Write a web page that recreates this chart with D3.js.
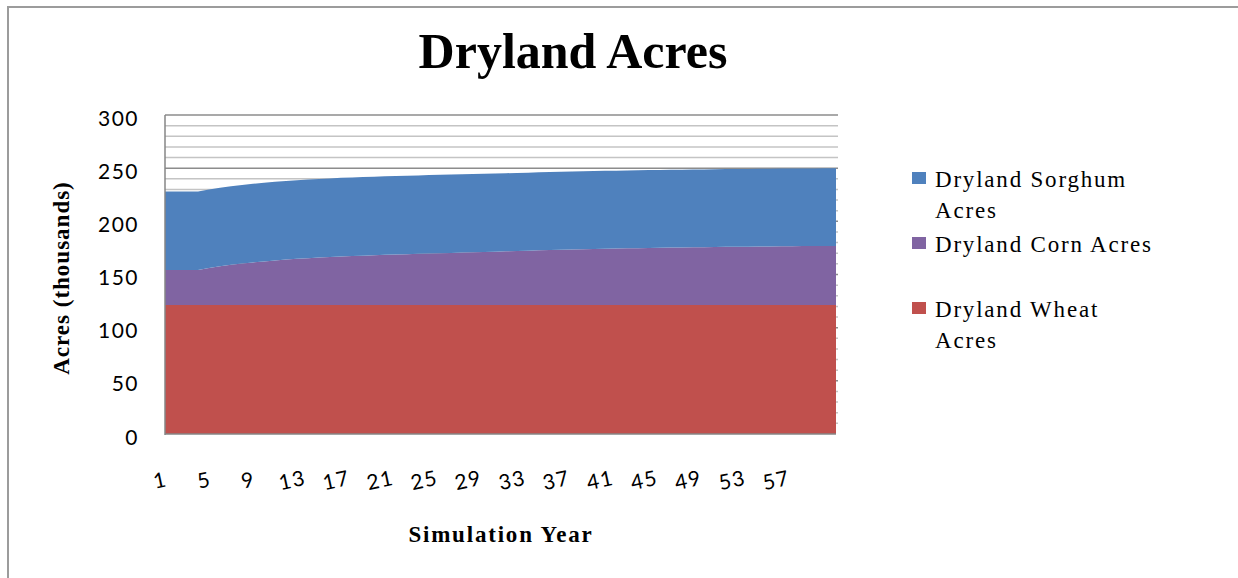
<!DOCTYPE html>
<html>
<head>
<meta charset="utf-8">
<script src="https://cdn.jsdelivr.net/npm/d3@7"></script>
<style>
    body { margin: 0; background: #fff; }
    svg { display: block; }
</style>
</head>
<body>
<div id="chart"></div>
<script>
// simulation years 1..62
let years = [1, 2, 3, 4, 5, 6, 7, 8, 9, 10, 11, 12, 13, 14, 15, 16, 17, 18, 19, 20,
    21, 22, 23, 24, 25, 26, 27, 28, 29, 30, 31, 32, 33, 34, 35, 36, 37, 38, 39, 40,
    41, 42, 43, 44, 45, 46, 47, 48, 49, 50, 51, 52, 53, 54, 55, 56, 57, 58, 59, 60, 61, 62];

// acres in thousands
let wheat = [121.3, 121.3, 121.3, 121.3, 121.3, 121.3, 121.3, 121.3, 121.3, 121.3,
    121.3, 121.3, 121.3, 121.3, 121.3, 121.3, 121.3, 121.3, 121.3, 121.3,
    121.3, 121.3, 121.3, 121.3, 121.3, 121.3, 121.3, 121.3, 121.3, 121.3,
    121.3, 121.3, 121.3, 121.3, 121.3, 121.3, 121.3, 121.3, 121.3, 121.3,
    121.3, 121.3, 121.3, 121.3, 121.3, 121.3, 121.3, 121.3, 121.3, 121.3,
    121.3, 121.3, 121.3, 121.3, 121.3, 121.3, 121.3, 121.3, 121.3, 121.3, 121.3, 121.3];
let corn = [33.0, 33.0, 33.0, 33.0,
    34.8, 36.4, 37.8, 39.0, 40.1, 41.0, 41.9, 42.7, 43.4, 44.0, 44.6, 45.1, 45.6, 46.0,
    46.4, 46.8, 47.2, 47.5, 47.8, 48.1, 48.4, 48.7, 49.0, 49.3, 49.6, 49.9, 50.2,
    50.5, 50.8, 51.1, 51.4, 51.7, 52.0, 52.2, 52.5, 52.7, 52.9, 53.1, 53.3, 53.5, 53.7,
    53.8, 54.0, 54.1, 54.3, 54.4, 54.5, 54.7, 54.8, 54.9, 55.0, 55.1, 55.2, 55.3, 55.4,
    55.4, 55.5, 55.5];
let sorghum = [73.7, 73.7, 73.7, 73.7,
    73.8, 73.8, 73.9, 73.9, 73.9, 74.0, 74.0, 74.0, 74.0, 74.0, 74.0,
    74.0, 74.0, 74.0, 73.9, 73.9, 73.9, 73.9, 73.8, 73.8, 73.8, 73.7, 73.7, 73.6, 73.6, 73.5, 73.5,
    73.5, 73.4, 73.4, 73.4, 73.4, 73.3, 73.3, 73.3, 73.3, 73.3,
    73.2, 73.2, 73.2, 73.2, 73.2, 73.2, 73.2,
    73.1, 73.1, 73.1, 73.1, 73.1, 73.1, 73.1, 73.1, 73.1, 73.1, 73.1, 73.1, 73.1, 73.1];

let xTickLabels = [1, 5, 9, 13, 17, 21, 25, 29, 33, 37, 41, 45, 49, 53, 57];
let yTickLabels = [0, 50, 100, 150, 200, 250, 300];

let width = 1238;
let height = 578;

let plot = {left: 165, right: 836, top: 115, bottom: 434};

let svg = d3.select("#chart").append("svg")
    .attr("width", width)
    .attr("height", height);

// outer chart border (only left and top edges fall in the frame)
svg.append("path")
    .attr("d", "M8," + height + " L8,7 L" + width + ",7")
    .attr("fill", "none")
    .attr("stroke", "#9c9c9c")
    .attr("stroke-width", 2);

svg.append("text")
    .attr("x", 573)
    .attr("y", 68)
    .attr("text-anchor", "middle")
    .attr("font-family", "'Liberation Serif', 'Times New Roman', serif")
    .attr("font-weight", "bold")
    .attr("font-size", 50)
    .text("Dryland Acres");

let x = d3.scaleLinear()
    .domain([years[0], years[years.length - 1]])
    .range([plot.left, plot.right]);

let y = d3.scaleLinear()
    .domain([0, 300])
    .range([plot.bottom, plot.top]);

// gridlines every 10, darker every 50
let gridgroup = svg.append("g").attr("id", "grid");
gridgroup.selectAll("line")
    .data(d3.range(10, 301, 10))
    .enter().append("line")
    .attr("x1", plot.left)
    .attr("x2", plot.right + 2)
    .attr("y1", d => y(d))
    .attr("y2", d => y(d))
    .attr("stroke", d => d % 50 === 0 ? "#8c8c8c" : "#c4c4c4")
    .attr("stroke-width", 1.5);

let rows = years.map(function (yr, i) {
    return {year: yr, wheat: wheat[i], corn: corn[i], sorghum: sorghum[i]};
});

let keys = ["wheat", "corn", "sorghum"];
let colors = {wheat: "#c0504d", corn: "#8064a2", sorghum: "#4f81bd"};

let stacked = d3.stack().keys(keys)(rows);

let area = d3.area()
    .x(d => x(d.data.year))
    .y0(d => y(d[0]))
    .y1(d => y(d[1]));

svg.append("g")
    .attr("id", "areas")
    .selectAll("path")
    .data(stacked)
    .enter().append("path")
    .attr("d", area)
    .attr("fill", d => colors[d.key]);

// axis lines
svg.append("line")
    .attr("x1", plot.left).attr("x2", plot.left)
    .attr("y1", plot.top).attr("y2", plot.bottom + 1)
    .attr("stroke", "#868686")
    .attr("stroke-width", 1.5);
svg.append("line")
    .attr("x1", plot.left).attr("x2", plot.right)
    .attr("y1", plot.bottom).attr("y2", plot.bottom)
    .attr("stroke", "#868686")
    .attr("stroke-width", 1.5);

// y tick labels
svg.append("g")
    .selectAll("text")
    .data(yTickLabels)
    .enter().append("text")
    .attr("x", 139)
    .attr("y", d => y(d) + 2)
    .attr("text-anchor", "end")
    .attr("dominant-baseline", "central")
    .attr("font-family", "Lato, 'Liberation Sans', sans-serif")
    .attr("font-size", 21)
    .attr("letter-spacing", 1.5)
    .attr("fill", "#000")
    .text(d => d);

// x tick labels, slightly tilted
svg.append("g")
    .selectAll("text")
    .data(xTickLabels)
    .enter().append("text")
    .attr("transform", d => "translate(" + (x(d) - 5) + ",479) rotate(-12)")
    .attr("text-anchor", "middle")
    .attr("dominant-baseline", "central")
    .attr("font-family", "Lato, 'Liberation Sans', sans-serif")
    .attr("font-size", 21)
    .attr("letter-spacing", 1.5)
    .attr("fill", "#000")
    .text(d => d);

// axis titles
svg.append("text")
    .attr("transform", "translate(69,278) rotate(-90)")
    .attr("text-anchor", "middle")
    .attr("font-family", "'Liberation Serif', 'Times New Roman', serif")
    .attr("font-weight", "bold")
    .attr("font-size", 23)
    .attr("letter-spacing", 1)
    .text("Acres (thousands)");

svg.append("text")
    .attr("x", 501)
    .attr("y", 542)
    .attr("text-anchor", "middle")
    .attr("font-family", "'Liberation Serif', 'Times New Roman', serif")
    .attr("font-weight", "bold")
    .attr("font-size", 23)
    .attr("letter-spacing", 1.8)
    .text("Simulation Year");

// legend
let legendItems = [
    {key: "sorghum", lines: ["Dryland Sorghum", "Acres"], y: 187},
    {key: "corn", lines: ["Dryland Corn Acres"], y: 252},
    {key: "wheat", lines: ["Dryland Wheat", "Acres"], y: 317}
];

let legendgroup = svg.append("g").attr("id", "legend");
let items = legendgroup.selectAll("g")
    .data(legendItems)
    .enter().append("g");

items.append("rect")
    .attr("x", 912)
    .attr("y", d => d.y - 15)
    .attr("width", 14)
    .attr("height", 12)
    .attr("fill", d => colors[d.key]);

items.append("text")
    .attr("font-family", "'Liberation Serif', 'Times New Roman', serif")
    .attr("font-size", 23)
    .attr("letter-spacing", 1.8)
    .attr("fill", "#000")
    .selectAll("tspan")
    .data(d => d.lines.map((t, i) => ({t: t, y: d.y + i * 31})))
    .enter().append("tspan")
    .attr("x", 935)
    .attr("y", d => d.y)
    .text(d => d.t);
</script>
</body>
</html>
